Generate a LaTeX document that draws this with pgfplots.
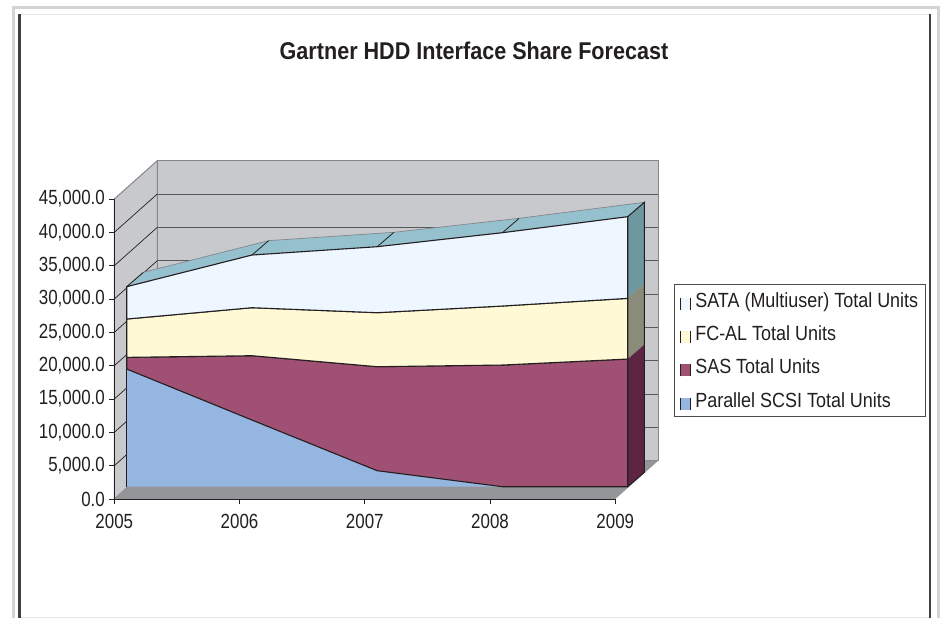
\documentclass[border=0pt]{standalone}
\usepackage{pgfplots}
\pgfplotsset{compat=1.18}
\usepackage{fontspec}
\setmainfont{Liberation Sans}
\newfontfamily\chartfont[FakeStretch=0.89]{Liberation Sans}
\newfontfamily\tickfont[FakeStretch=0.825]{Liberation Sans}
\newfontfamily\legfont[FakeStretch=0.876]{Liberation Sans}
\definecolor{wall}{HTML}{C8C9CD}
\definecolor{floorc}{HTML}{939598}
\definecolor{edge}{HTML}{85868A}
\definecolor{ink}{HTML}{231F20}
\definecolor{scsi}{HTML}{95B6E0}
\definecolor{sas}{HTML}{A05073}
\definecolor{fcal}{HTML}{FFF9D5}
\definecolor{sata}{HTML}{EEF7FF}
\definecolor{topc}{HTML}{95C1CF}
\definecolor{sidesata}{HTML}{6F97A0}
\definecolor{sidefc}{HTML}{8A8B78}
\definecolor{sidesas}{HTML}{5E2543}
\begin{document}
\begin{tikzpicture}[x=1pt,y=1pt]
\path[use as bounding box] (0,0) rectangle (940,-618);
% page frame
\fill[white] (0,0) rectangle (940,-618);
\fill[black!17] (12,-6) rectangle (937,-9.3);
\fill[black!17] (12,-6) rectangle (15.3,-618);
\fill[black!17] (936.7,-6) rectangle (940,-618);
\fill[black!10] (18,-14) rectangle (931,-15.2);
\fill[black!75] (18,-14) rectangle (20.7,-618);
\fill[black!75] (929.3,-14) rectangle (931.3,-618);
\fill[black!10] (20.7,-617) rectangle (929.3,-618);
\node[font=\chartfont\bfseries\fontsize{24.25}{28}\selectfont,text=ink,anchor=center] at (474,-51) {Gartner HDD Interface Share Forecast};
\begin{axis}[
  at={(114.3pt,-499pt)}, anchor=south west,
  scale only axis, width=501pt, height=300pt,
  xmin=2005, xmax=2009, ymin=0, ymax=45000,
  clip=false, axis on top=true,
  axis lines=left, axis line style={-, ink, line width=1pt},
  xtick={2005,2006,2007,2008,2009},
  xticklabels={2005,2006,2007,2008,2009},
  ytick={0,5000,10000,15000,20000,25000,30000,35000,40000,45000},
  scaled y ticks=false,
  tick style={ink, line width=1pt},
  tick align=outside, major tick length=5pt,
  yticklabel style={xshift=-1pt},
  /pgf/number format/fixed,
  /pgf/number format/fixed zerofill,
  /pgf/number format/precision=1,
  /pgf/number format/1000 sep={,},
  /pgf/number format/assume math mode=true,
  ticklabel style={font=\tickfont\fontsize{20.5}{23}\selectfont, text=ink},
  xticklabel style={yshift=-7pt},
  series/.style={shift={(12.4pt,12.3pt)}},
  legend style={at={(1.1172,0.7177)}, anchor=north west, draw=black!70, line width=1pt,
    font=\legfont\fontsize{20.5}{23}\selectfont, text=ink, inner xsep=5.2pt, inner ysep=6pt, row sep=13pt,
    /tikz/every odd column/.style={column sep=2.4pt}},
  legend cell align=left,
  reverse legend,
  legend image code/.code={
    \fill[#1,draw=none] (0pt,-21.5pt) rectangle (10pt,-9.5pt);
    \draw[ink,line width=1.2pt] (0pt,-21.5pt) -- (0pt,-9.5pt) (10pt,-21.5pt) -- (10pt,-9.5pt);
  },
]
% walls and floor
\addplot[forget plot, fill=wall, draw=edge, line width=1pt] coordinates {(2005.343,5745)(2009.343,5745)(2009.343,50745)(2005.343,50745)} -- cycle;
\addplot[forget plot, fill=wall, draw=edge, line width=1pt] coordinates {(2005,0)(2005.343,5745)(2005.343,50745)(2005,45000)} -- cycle;
\addplot[forget plot, fill=floorc, draw=none] coordinates {(2005,0)(2009,0)(2009.343,5745)(2005.343,5745)} -- cycle;
% gridlines
\addplot[forget plot, ink, line width=.7pt] coordinates {(2005,5000)(2005.343,10745)};
\addplot[forget plot, ink, line width=.7pt] coordinates {(2005,10000)(2005.343,15745)};
\addplot[forget plot, ink, line width=.7pt] coordinates {(2005,15000)(2005.343,20745)};
\addplot[forget plot, ink, line width=.7pt] coordinates {(2005,20000)(2005.343,25745)};
\addplot[forget plot, ink, line width=.7pt] coordinates {(2005,25000)(2005.343,30745)};
\addplot[forget plot, ink, line width=.7pt] coordinates {(2005,30000)(2005.343,35745)};
\addplot[forget plot, ink, line width=.7pt] coordinates {(2005,35000)(2005.343,40745)};
\addplot[forget plot, ink, line width=.7pt] coordinates {(2005,40000)(2005.343,45745)};
\addplot[forget plot, black!65, line width=1pt] coordinates {(2005.343,10745)(2009.343,10745)};
\addplot[forget plot, black!65, line width=1pt] coordinates {(2005.343,15745)(2009.343,15745)};
\addplot[forget plot, black!65, line width=1pt] coordinates {(2005.343,20745)(2009.343,20745)};
\addplot[forget plot, black!65, line width=1pt] coordinates {(2005.343,25745)(2009.343,25745)};
\addplot[forget plot, black!65, line width=1pt] coordinates {(2005.343,30745)(2009.343,30745)};
\addplot[forget plot, black!65, line width=1pt] coordinates {(2005.343,35745)(2009.343,35745)};
\addplot[forget plot, black!65, line width=1pt] coordinates {(2005.343,40745)(2009.343,40745)};
\addplot[forget plot, black!65, line width=1pt] coordinates {(2005.343,45745)(2009.343,45745)};
% top face of the stack
\addplot[forget plot, series, fill=topc, draw=edge, line width=.7pt] coordinates {(2005,30000)(2005.1333,32160)(2006.1333,36910)(2007.1333,38160)(2008.1333,40260)(2009.1333,42660)(2009,40500)(2008,38100)(2007,36000)(2006,34750)} -- cycle;
\addplot[forget plot, series, ink, line width=.8pt] coordinates {(2005,30000)(2005.1333,32160)};
\addplot[forget plot, series, ink, line width=.8pt] coordinates {(2006,34750)(2006.1333,36910)};
\addplot[forget plot, series, ink, line width=.8pt] coordinates {(2007,36000)(2007.1333,38160)};
\addplot[forget plot, series, ink, line width=.8pt] coordinates {(2008,38100)(2008.1333,40260)};
% side faces
\addplot[forget plot, series, fill=sidesata, draw=none] coordinates {(2009,40500)(2009.1333,42660)(2009.1333,30410)(2009,28250)} -- cycle;
\addplot[forget plot, series, fill=sidefc, draw=none] coordinates {(2009,28250)(2009.1333,30410)(2009.1333,21310)(2009,19150)} -- cycle;
\addplot[forget plot, series, fill=sidesas, draw=none] coordinates {(2009,19150)(2009.1333,21310)(2009.1333,2160)(2009,0)} -- cycle;
\addplot[forget plot, series, ink, line width=1pt] coordinates {(2009,40500)(2009.1333,42660)(2009.1333,2160)(2009,0)};
% stacked series
\addplot[stack plots=y, series, fill=scsi, draw=none] coordinates {(2005,17650)(2006,10000)(2007,2400)(2008,0)(2009,0)} \closedcycle;
\addlegendentry{Parallel SCSI Total Units}
\addplot[stack plots=y, series, fill=sas, draw=ink, line width=1.1pt] coordinates {(2005,1750)(2006,9650)(2007,15600)(2008,18250)(2009,19150)} \closedcycle;
\addlegendentry{SAS Total Units}
\addplot[stack plots=y, series, fill=fcal, draw=ink, line width=1.1pt] coordinates {(2005,5750)(2006,7200)(2007,8100)(2008,8850)(2009,9100)} \closedcycle;
\addlegendentry{FC-AL Total Units}
\addplot[stack plots=y, series, fill=sata, draw=ink, line width=1.1pt] coordinates {(2005,4850)(2006,7900)(2007,9900)(2008,11000)(2009,12250)} \closedcycle;
\addlegendentry{SATA (Multiuser) Total Units}
\addplot[forget plot, series, ink, line width=1.1pt] coordinates {(2005,0)(2005,17650)};
\end{axis}
\end{tikzpicture}
\end{document}
